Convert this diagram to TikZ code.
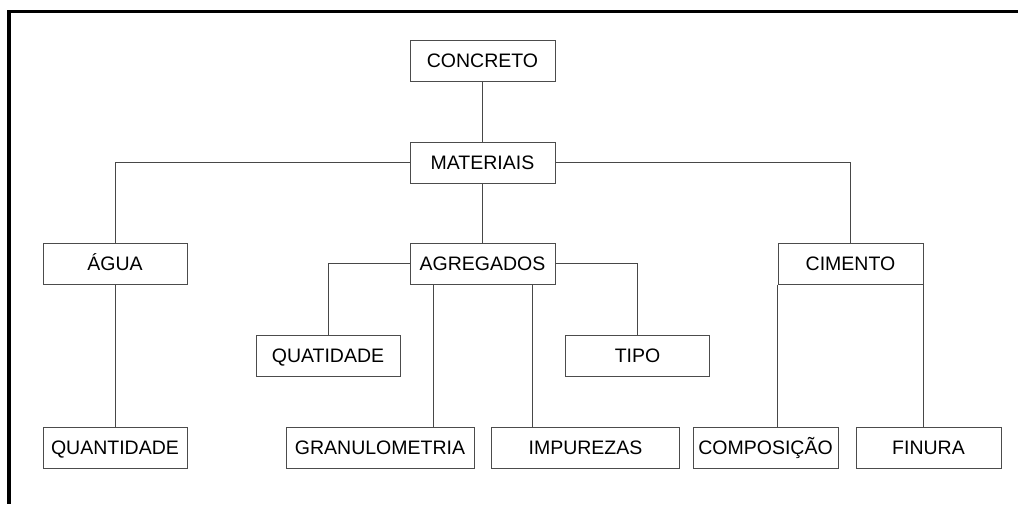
\documentclass[tikz,border=0pt]{standalone}
\usepackage{fontspec}
\setmainfont{Liberation Sans}
\begin{document}
\begin{tikzpicture}[x=1pt,y=-1pt,
  box/.style={draw=black!70, line width=1pt, fill=white, rectangle,
    minimum height=41pt, inner sep=0pt, text height=14pt, text depth=0pt,
    font=\fontsize{19.5}{22}\selectfont},
  w144/.style={minimum width=144pt},
  w145/.style={minimum width=145pt},
  w188/.style={minimum width=188pt},
  conn/.style={draw=black!72, line width=1pt}]
\useasboundingbox (0,0) rectangle (1018,504);
\fill[white] (0,0) rectangle (1018,504);
% frame
\draw[line width=3.4pt, line join=miter] (1018,11.3) -- (9,11.3) -- (9,504);
% nodes
\node[box,w145] (concreto) at (482.5,60.5) {CONCRETO};
\node[box,w145] (mat) at (482.5,162.5) {MATERIAIS};
\node[box,w144] (agua) at (115,263.5) {ÁGUA};
\node[box,w145] (agreg) at (482.5,263.5) {AGREGADOS};
\node[box,w145] (cim) at (850.5,263.5) {CIMENTO};
\node[box,w144] (quat) at (328,355.5) {QUATIDADE};
\node[box,w144] (tipo) at (637.5,355.5) {TIPO};
\node[box,w144] (quant) at (115,447.5) {QUANTIDADE};
\node[box,w188] (gran) at (380,447.5) {GRANULOMETRIA};
\node[box,w188] (imp) at (585.5,447.5) {IMPUREZAS};
\node[box,w145] (comp) at (765.5,447.5) {COMPOSIÇÃO};
\node[box,w145] (fin) at (928.5,447.5) {FINURA};
% connectors
\draw[conn] (concreto.south) -- (mat.north);
\draw[conn] (mat.west) -| (agua.north);
\draw[conn] (mat.east) -| (cim.north);
\draw[conn] (mat.south) -- (agreg.north);
\draw[conn] (agua.south) -- (quant.north);
\draw[conn] (agreg.west) -| (quat.north);
\draw[conn] (agreg.east) -| (tipo.north);
\draw[conn] ([xshift=-49.5pt]agreg.south) -- ([xshift=-49.5pt]agreg.south |- gran.north);
\draw[conn] ([xshift=49.5pt]agreg.south) -- ([xshift=49.5pt]agreg.south |- imp.north);
\draw[conn] (cim.south west) -- (cim.south west |- comp.north);
\draw[conn] (cim.south east) -- (cim.south east |- fin.north);
\end{tikzpicture}
\end{document}
